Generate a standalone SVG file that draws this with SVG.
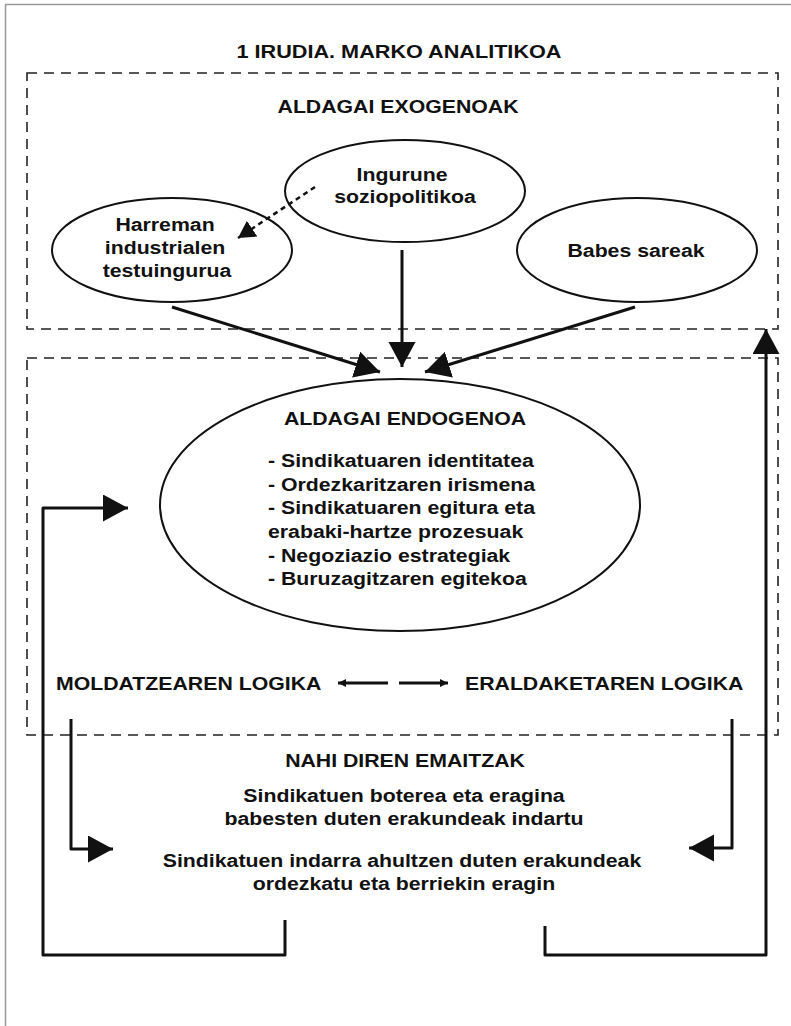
<svg xmlns="http://www.w3.org/2000/svg" width="791" height="1026" viewBox="0 0 791 1026">
<style>
text{font-family:"Liberation Sans",Arial,sans-serif;font-weight:bold;font-size:18.5px;fill:#111;text-anchor:middle}
.st{text-anchor:start}
.box{fill:none;stroke:#222;stroke-width:1.6;stroke-dasharray:10 7}
.el{fill:#fff;stroke:#111;stroke-width:2}
.ln{fill:none;stroke:#111;stroke-width:3;stroke-linejoin:round}
.thin{fill:none;stroke:#111;stroke-width:2.8}
</style>
<defs>
<marker id="ah" markerUnits="userSpaceOnUse" markerWidth="26" markerHeight="28" refX="25" refY="13.5" orient="auto"><path d="M0,0 L25,13.5 L0,27 z" fill="#111"/></marker>
<marker id="ahm" markerUnits="userSpaceOnUse" markerWidth="18" markerHeight="20" refX="17" refY="9.5" orient="auto"><path d="M0,0 L17,9.5 L0,19 z" fill="#111"/></marker>
<marker id="ahs" markerUnits="userSpaceOnUse" markerWidth="9" markerHeight="9" refX="8" refY="4" orient="auto"><path d="M0,0 L8,4 L0,8 z" fill="#111"/></marker>
</defs>
<rect width="791" height="1026" fill="#fff"/>
<path d="M5.5,1026 V4.5 H791" fill="none" stroke="#999" stroke-width="1.5"/>
<g id="title"><text transform="translate(399,58) scale(1.17,1)">1 IRUDIA. MARKO ANALITIKOA</text></g>
<g id="exogenous-box"><rect class="box" x="27" y="73" width="751" height="256"/>
<text transform="translate(398,113) scale(1.15,1)">ALDAGAI EXOGENOAK</text></g>
<g id="endogenous-box"><rect class="box" x="27" y="358" width="751" height="377"/></g>
<g id="ingurune"><ellipse class="el" cx="405" cy="191" rx="120" ry="51"/>
<text transform="translate(402,181) scale(1.15,1)">Ingurune</text>
<text transform="translate(405,203) scale(1.15,1)">soziopolitikoa</text></g>
<g id="harreman"><ellipse class="el" cx="172" cy="250" rx="120" ry="52"/>
<text transform="translate(165,231) scale(1.15,1)">Harreman</text>
<text transform="translate(165,254) scale(1.15,1)">industrialen</text>
<text transform="translate(167,277) scale(1.15,1)">testuingurua</text></g>
<g id="babes"><ellipse class="el" cx="637" cy="250" rx="120" ry="52"/>
<text transform="translate(636,257) scale(1.15,1)">Babes sareak</text></g>
<g id="endogenoa"><ellipse class="el" cx="400" cy="505" rx="240" ry="126"/>
<text transform="translate(405,425) scale(1.15,1)">ALDAGAI ENDOGENOA</text>
<text class="st" transform="translate(268,467) scale(1.15,1)">- Sindikatuaren identitatea</text>
<text class="st" transform="translate(268,490.5) scale(1.15,1)">- Ordezkaritzaren irismena</text>
<text class="st" transform="translate(268,514) scale(1.15,1)">- Sindikatuaren egitura eta</text>
<text class="st" transform="translate(268,538) scale(1.15,1)">erabaki-hartze prozesuak</text>
<text class="st" transform="translate(268,561.5) scale(1.15,1)">- Negoziazio estrategiak</text>
<text class="st" transform="translate(268,585) scale(1.15,1)">- Buruzagitzaren egitekoa</text></g>
<g id="moldatzea"><text class="st" transform="translate(56,690) scale(1.15,1)">MOLDATZEAREN LOGIKA</text></g>
<g id="eraldaketa"><text class="st" transform="translate(465,690) scale(1.15,1)">ERALDAKETAREN LOGIKA</text></g>
<g id="emaitzak">
<text transform="translate(405,767) scale(1.15,1)">NAHI DIREN EMAITZAK</text>
<text transform="translate(404,802) scale(1.15,1)">Sindikatuen boterea eta eragina</text>
<text transform="translate(404,825) scale(1.15,1)">babesten duten erakundeak indartu</text>
<text transform="translate(402,867) scale(1.15,1)">Sindikatuen indarra ahultzen duten erakundeak</text>
<text transform="translate(404,890) scale(1.15,1)">ordezkatu eta berriekin eragin</text></g>
<g id="connectors">
<path d="M315,187 L238,238" fill="none" stroke="#111" stroke-width="2.5" stroke-dasharray="5 4" marker-end="url(#ahm)"/>
<path class="ln" d="M172,307 L380,372" marker-end="url(#ah)"/>
<path class="ln" d="M402,250 L402,367" marker-end="url(#ah)"/>
<path class="ln" d="M635,307 L425,372" marker-end="url(#ah)"/>
<path class="ln" d="M285,920 V955 H43 V508 H128" marker-end="url(#ah)"/>
<path class="ln" d="M545,926 V955 H766 V329" marker-end="url(#ah)"/>
<path class="ln" d="M71,719 V849 H113" marker-end="url(#ah)"/>
<path class="ln" d="M732,719 V848 H689" marker-end="url(#ah)"/>
<path class="thin" d="M388,683 H338" marker-end="url(#ahs)"/>
<path class="thin" d="M399,683 H448" marker-end="url(#ahs)"/>
</g>
</svg>
